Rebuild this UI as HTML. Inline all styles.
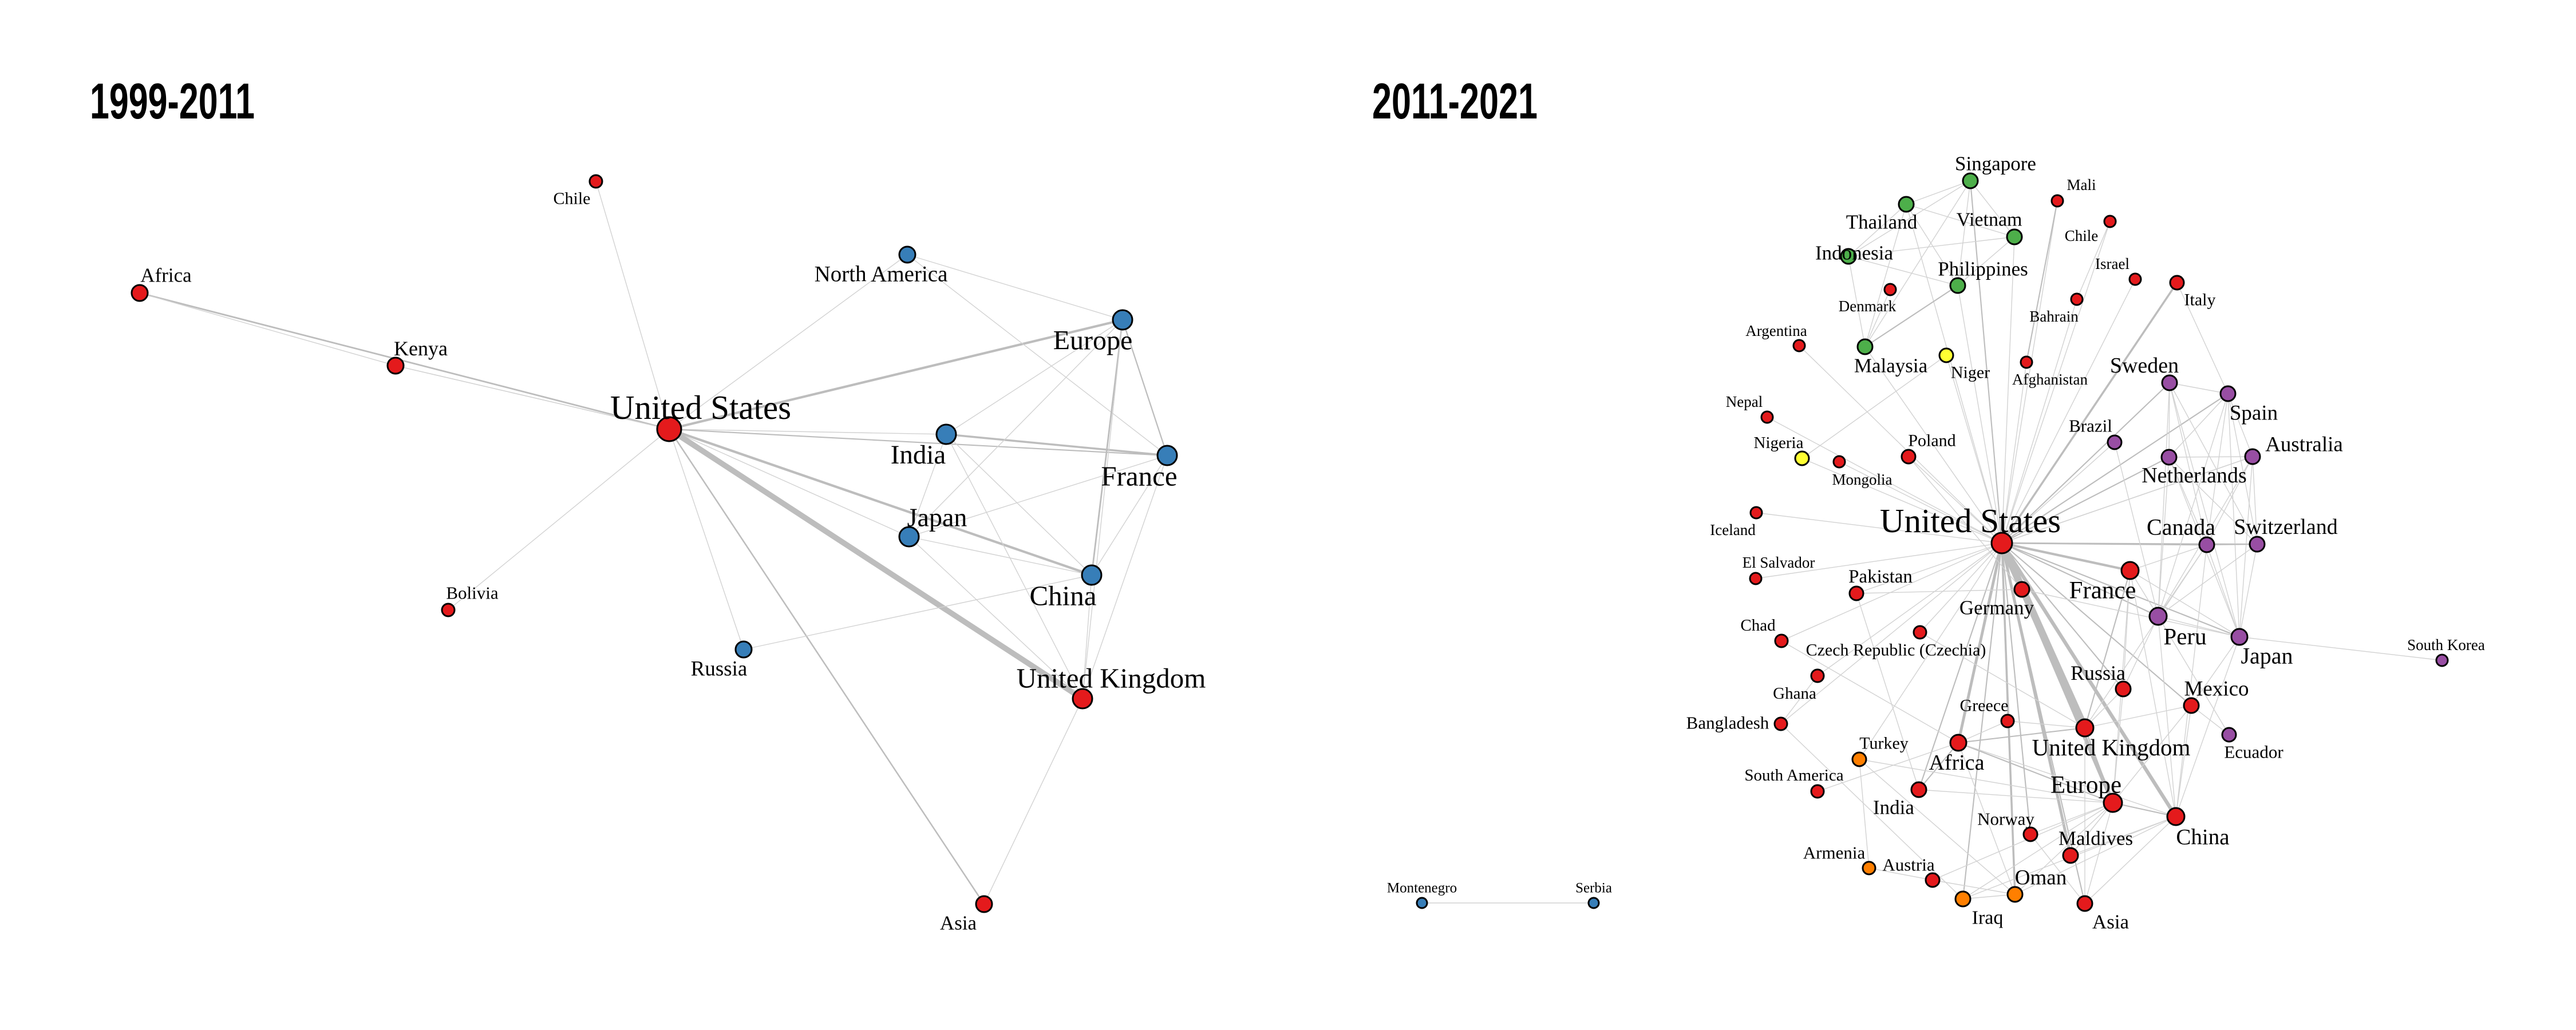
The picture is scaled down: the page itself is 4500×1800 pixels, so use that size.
<!DOCTYPE html>
<html><head><meta charset="utf-8">
<style>
html,body{margin:0;padding:0;background:#fff;}
svg{display:block;}
text{font-family:"Liberation Serif",serif;fill:#000;}
.title{font-family:"Liberation Sans Narrow","Liberation Sans",sans-serif;font-weight:bold;}
</style></head>
<body>
<svg id="chart" width="4500" height="1800" viewBox="0 0 4500 1800" xmlns="http://www.w3.org/2000/svg">
<text class="title" x="157" y="207" font-size="88" textLength="288" lengthAdjust="spacingAndGlyphs">1999-2011</text>
<text class="title" x="2397" y="207" font-size="88" textLength="289" lengthAdjust="spacingAndGlyphs">2011-2021</text>
<g id="p1" transform="translate(-6,-6)"></g>
<g id="p2" transform="translate(-3,-6)"></g>
</svg>
<script>
// ---- Panel 1 data (1999-2011) ----
const n1Names = ["Chile","Africa","Kenya","United States","North America","Europe","India","France","Japan","China","Russia","Bolivia","United Kingdom","Asia"];
const n1X = [1047,250,697,1175,1591,1967,1659,2045,1594,1913,1305,789,1897,1725];
const n1Y = [323,518,645,756,451,565,765,802,944,1011,1141,1072,1227,1586];
const n1Group = ["r","r","r","r","b","b","b","b","b","b","b","r","r","r"];
const n1R = [11,14,14,21,14,17,17,17,17,17,14,11,17,14];
const n1Font = [30,35,36,59,39,48,47,49,46,49,37,31,49,35];
const n1LX = [1005,296,741,1230,1545,1915,1610,1996,1643,1863,1262,831,1947,1680];
const n1LY = [353,487,615,718,485,601,801,838,910,1047,1175,1042,1191,1619];
const e1From = ["United States","United States","Africa","Kenya","United States","United States","United States","United States","India","United States","United States","United States","United States","United States","United States","United States","North America","North America","Europe","Europe","Europe","Europe","Europe","France","France","France","India","India","India","Japan","Japan","China","China","United Kingdom"];
const e1To = ["Africa","Kenya","Kenya","United States","Chile","North America","Europe","India","France","France","Japan","China","United Kingdom","Russia","Bolivia","Asia","Europe","France","India","Japan","China","United Kingdom","France","Japan","China","United Kingdom","Japan","China","United Kingdom","China","United Kingdom","Russia","United Kingdom","Asia"];
const e1W = [2,1,1,1,1,1,3,1,2.5,1.5,1,3,7,1,1,1.8,1,1,1,1,2,1,1.6,1,1,1,1,1,1,1,1,1,1,1];

// ---- Panel 2 data (2011-2021) ----
const n2Names = ["Singapore","Thailand","Vietnam","Indonesia","Philippines","Malaysia","Niger","Nigeria","Mali","Chile","Israel","Italy","Bahrain","Denmark","Argentina","Afghanistan","Sweden","Spain","Brazil","Netherlands","Australia","Nepal","Mongolia","Poland","Iceland","United States","Canada","Switzerland","El Salvador","France","Pakistan","Germany","Peru","Japan","South Korea","Chad","Czech Republic (Czechia)","Ghana","Russia","Mexico","Bangladesh","Greece","United Kingdom","Africa","Turkey","Ecuador","South America","India","Europe","China","Norway","Maldives","Armenia","Austria","Oman","Iraq","Asia","Montenegro","Serbia"];
const n2X = [3445,3333,3522,3232,3423,3261,3403,3151,3597,3689,3733,3806,3631,3305,3146,3543,3793,3895,3697,3792,3938,3090,3216,3337,3071,3500,3858,3946,3070,3724,3246,3535,3773,3915,4269,3115,3357,3178,3712,3831,3114,3510,3645,3424,3251,3897,3178,3355,3694,3804,3550,3620,3268,3379,3523,3432,3645,2487,2787];
const n2Y = [322,363,420,454,505,612,627,807,357,393,494,500,529,512,610,639,675,694,779,805,804,735,813,804,902,955,958,957,1017,1003,1043,1036,1083,1119,1160,1126,1111,1187,1210,1239,1271,1266,1278,1304,1333,1290,1389,1386,1409,1433,1464,1501,1523,1544,1569,1577,1585,1584,1584];
const n2Group = ["g","g","g","g","g","g","y","y","r","r","r","r","r","r","r","r","p","p","p","p","p","r","r","r","r","r","p","p","r","r","r","r","p","p","p","r","r","r","r","r","r","r","r","r","o","p","r","r","r","r","r","r","o","r","o","o","r","b","b"];
const n2R = [13,13,13,13,13,13,12,12,10,10,10,12,10,10,10,10,13,13,12,13,13,10,10,12,10,18,13,13,10,15,12,13,15,14,10,11,11,11,13,13,11,11,15,14,12,12,11,13,16,15,12,13,11,12,13,13,13,9,9];
const n2Font = [35,35,34,35,35,35,30,29,27,27,27,30,27,27,27,27,38,37,31,38,37,27,27,30,27,59,40,38,27,43,33,35,41,40,27,29,30,29,36,37,31,30,41,38,30,31,29,35,43,39,31,35,31,31,37,34,35,25,25];
const n2LX = [3489,3290,3478,3242,3467,3306,3445,3110,3639,3639,3693,3846,3591,3265,3106,3584,3749,3940,3655,3836,4028,3050,3256,3378,3030,3445,3813,3996,3110,3676,3288,3491,3820,3963,4276,3074,3315,3138,3668,3875,3021,3469,3691,3421,3294,3940,3137,3311,3647,3851,3507,3664,3207,3337,3568,3475,3690,2487,2787];
const n2LY = [292,394,390,448,476,645,657,780,329,418,467,530,559,541,584,669,645,728,750,837,783,708,844,776,932,916,927,927,989,1038,1014,1068,1118,1152,1133,1099,1142,1218,1182,1210,1269,1239,1312,1339,1305,1320,1361,1417,1378,1469,1437,1471,1496,1517,1540,1610,1617,1558,1558];
const e2From = ["United States","United States","United States","United States","United States","United States","United States","United States","United States","United States","United States","United States","United States","United States","United States","United States","United States","United States","United States","United States","United States","United States","United States","United States","United States","United States","United States","United States","United States","United States","United States","United States","United States","United States","United States","United States","United States","United States","United States","United States","United States","United States","United States","United States","United States","United States","United States","United States",
"Singapore","Singapore","Singapore","Singapore","Singapore","Thailand","Thailand","Thailand","Thailand","Indonesia","Indonesia","Indonesia","Philippines","Vietnam","Niger","Mali","Chile","Denmark",
"Sweden","Sweden","Sweden","Sweden","Sweden","Sweden","Spain","Spain","Spain","Spain","Spain","Spain","Netherlands","Netherlands","Netherlands","Netherlands","Netherlands","Australia","Australia","Australia","Australia","Canada","Canada","Canada","Switzerland","Switzerland","Peru","Japan","Brazil","Italy","Peru","Mexico",
"France","France","France","France","France","France","France","Germany","Germany","Pakistan","Chad","Ghana","Bangladesh","South America","India","India","Africa","Africa","Africa","Africa","Turkey","Turkey","Turkey","Armenia","Austria","Austria","Iraq","Iraq","Iraq","Oman","Oman","Norway","Norway","Maldives","Maldives","Maldives","Asia","Asia","Asia","Europe","United Kingdom","United Kingdom","United Kingdom","United Kingdom","Russia","Russia","Mexico","Mexico","China","China","China","Greece","Greece","Czech Republic (Czechia)","Montenegro","Poland","Argentina"];
const e2To = ["Singapore","Vietnam","Philippines","Malaysia","Thailand","Niger","Mali","Chile","Bahrain","Israel","Italy","Afghanistan","Sweden","Spain","Brazil","Netherlands","Australia","Nepal","Nigeria","Mongolia","Poland","Iceland","Canada","Switzerland","El Salvador","France","Pakistan","Germany","Peru","Japan","Chad","Czech Republic (Czechia)","Ghana","Russia","Mexico","Bangladesh","Greece","United Kingdom","Africa","Turkey","India","Europe","China","Norway","Maldives","Oman","Iraq","Asia",
"Thailand","Vietnam","Indonesia","Philippines","Malaysia","Vietnam","Indonesia","Philippines","Malaysia","Vietnam","Philippines","Malaysia","Malaysia","Philippines","Nigeria","Afghanistan","Bahrain","Malaysia",
"Spain","Netherlands","Canada","Switzerland","Peru","Japan","Netherlands","Australia","Canada","Switzerland","Peru","Japan","Australia","Canada","Switzerland","Peru","Japan","Canada","Switzerland","Japan","Peru","Switzerland","Peru","Japan","Peru","Japan","Japan","South Korea","Peru","Spain","Ecuador","Ecuador",
"Peru","Japan","Russia","United Kingdom","Europe","China","Canada","Japan","Pakistan","India","Africa","Bangladesh","Iraq","Africa","Africa","Europe","United Kingdom","Europe","China","Oman","Armenia","Oman","Europe","Austria","Oman","Europe","Oman","Europe","China","Europe","China","Europe","Asia","Europe","China","Mexico","Europe","China","United Kingdom","China","Europe","Russia","Mexico","Canada","Europe","Peru","China","Japan","Japan","Peru","Canada","Africa","United Kingdom","United Kingdom","Serbia","Germany","United States"];
const e2W = [1.5,1,1,1,1,1,1,1,1,1,2.5,1,1.5,1.5,1,1.5,1.2,1,1,1,1,1,2,1.5,1,3,1,1.5,1.5,1.5,1,1,1,1.5,1.5,1,1,9,3.5,1,1.5,5,4.5,1.5,3.5,2.5,1.5,1.5,
1,1,1,1,1,1,1,1,1,1,1,1,1.5,1,1,1.5,1,1,
1,1,1,1,1,1,1,1,1,1,1,1,1,1,1,1,1,1,1,1,1,1.5,1,1,1,1,1,1,1,1,1,1,
1,1,1,1.5,1,1,1,1,1,1,1,1,1,1,1.5,1,1.5,1.5,1,1,1,1,1,1,1,1,1,1,1,1,1,1,1,1,1,1,1,1,1,1.5,1.5,1,1,1,1,1,1,1,1,1,1,1,1,1,1,1,1];

const colors = {r:"#E41A1C",b:"#377EB8",g:"#4DAF4A",p:"#984EA3",o:"#FF7F00",y:"#FFFF33"};
const NS = "http://www.w3.org/2000/svg";
function slug(s){return s.toLowerCase().replace(/[^a-z0-9]+/g,"-").replace(/^-|-$/g,"");}

function drawPanel(gid, prefix, names, xs, ys, groups, rs, fonts, lxs, lys, ef, et, ew){
  const g = document.getElementById(gid);
  const idx = {};
  names.forEach((n,i)=>idx[n]=i);
  const eg = document.createElementNS(NS,"g");
  
  
  g.appendChild(eg);
  for(let k=0;k<ef.length;k++){
    const a = idx[ef[k]], b = idx[et[k]];
    if(a===undefined||b===undefined) continue;
    const l = document.createElementNS(NS,"line");
    l.setAttribute("x1",xs[a]); l.setAttribute("y1",ys[a]);
    l.setAttribute("x2",xs[b]); l.setAttribute("y2",ys[b]);
    l.setAttribute("stroke", ew[k]>1.2 ? "#bdbdbd" : "#d2d2d2");
    l.setAttribute("stroke-width", 1.4*ew[k]);
    
    
    eg.appendChild(l);
  }
  const ng = document.createElementNS(NS,"g");
  
  
  g.appendChild(ng);
  for(let i=0;i<names.length;i++){
    const c = document.createElementNS(NS,"circle");
    c.setAttribute("cx",xs[i]); c.setAttribute("cy",ys[i]); c.setAttribute("r",rs[i]);
    c.setAttribute("fill",colors[groups[i]]); c.setAttribute("stroke","#000"); c.setAttribute("stroke-width",3);
    
    
    ng.appendChild(c);
  }
  for(let i=0;i<names.length;i++){
    const t = document.createElementNS(NS,"text");
    t.setAttribute("x",lxs[i]); t.setAttribute("y",lys[i]);
    t.setAttribute("font-size",fonts[i]);
    t.setAttribute("text-anchor","middle");
    t.setAttribute("dominant-baseline","central");
    t.textContent = names[i];
    
    
    ng.appendChild(t);
  }
}
drawPanel("p1","p1",n1Names,n1X,n1Y,n1Group,n1R,n1Font,n1LX,n1LY,e1From,e1To,e1W);
drawPanel("p2","p2",n2Names,n2X,n2Y,n2Group,n2R,n2Font,n2LX,n2LY,e2From,e2To,e2W);
</script>
</body></html>
